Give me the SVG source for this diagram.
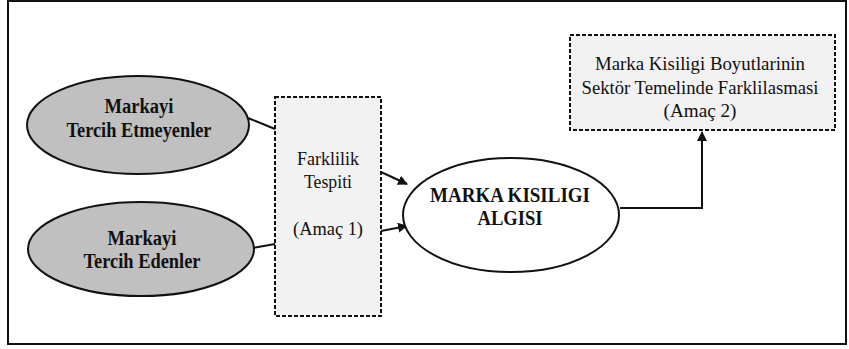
<svg xmlns="http://www.w3.org/2000/svg" width="849" height="349" viewBox="0 0 849 349">
<style>
.t{font-family:"Liberation Serif","Times New Roman",serif;font-size:19px;fill:#111;text-anchor:middle}
.b{font-weight:bold;font-size:20px}
.ell{fill:#c0c0c0;stroke:#111;stroke-width:2}
.dash{fill:#f2f2f2;stroke:#111;stroke-width:2;stroke-dasharray:4 2}
.ln{fill:none;stroke:#111;stroke-width:2}
</style>
<defs>
<marker id="ah" viewBox="0 0 10 10" refX="9" refY="5" markerWidth="5" markerHeight="5" orient="auto" markerUnits="strokeWidth">
<path d="M0,0 L10,5 L0,10 z" fill="#111"/>
</marker>
</defs>
<rect x="8" y="1" width="838" height="343" fill="#fff" stroke="#111" stroke-width="2"/>
<g id="connectors">
<line class="ln" x1="248" y1="118" x2="275" y2="129"/>
<line class="ln" x1="253" y1="248" x2="275" y2="244"/>
<line class="ln" x1="381" y1="172" x2="407" y2="184" marker-end="url(#ah)"/>
<line class="ln" x1="381" y1="231" x2="407" y2="226" marker-end="url(#ah)"/>
<polyline class="ln" points="620,208 702,208 702,132" marker-end="url(#ah)"/>
</g>
<g id="n1">
<ellipse class="ell" cx="138" cy="125" rx="111" ry="49"/>
<text class="t b" x="139" y="113" textLength="69" lengthAdjust="spacingAndGlyphs">Markayi</text>
<text class="t b" x="139" y="137" textLength="145" lengthAdjust="spacingAndGlyphs">Tercih Etmeyenler</text>
</g>
<g id="n2">
<ellipse class="ell" cx="141" cy="249" rx="113" ry="47"/>
<text class="t b" x="142" y="245" textLength="69" lengthAdjust="spacingAndGlyphs">Markayi</text>
<text class="t b" x="142" y="268" textLength="117" lengthAdjust="spacingAndGlyphs">Tercih Edenler</text>
</g>
<g id="n3">
<rect class="dash" x="275" y="97" width="106" height="219"/>
<text class="t" x="328" y="165" textLength="62" lengthAdjust="spacingAndGlyphs">Farklilik</text>
<text class="t" x="328" y="188" textLength="48" lengthAdjust="spacingAndGlyphs">Tespiti</text>
<text class="t" x="328" y="235" textLength="70" lengthAdjust="spacingAndGlyphs">(Amaç 1)</text>
</g>
<g id="n4">
<ellipse cx="511" cy="215" rx="108" ry="57" fill="#fff" stroke="#111" stroke-width="2"/>
<text class="t b" x="510" y="202" textLength="160" lengthAdjust="spacingAndGlyphs">MARKA KISILIGI</text>
<text class="t b" x="510" y="225" textLength="65" lengthAdjust="spacingAndGlyphs">ALGISI</text>
</g>
<g id="n5">
<rect class="dash" x="570" y="35" width="265" height="95"/>
<text class="t" x="700" y="70" textLength="210" lengthAdjust="spacingAndGlyphs">Marka Kisiligi  Boyutlarinin</text>
<text class="t" x="700" y="94" textLength="237" lengthAdjust="spacingAndGlyphs">Sektör Temelinde Farklilasmasi</text>
<text class="t" x="700" y="117" textLength="73" lengthAdjust="spacingAndGlyphs">(Amaç 2)</text>
</g>
</svg>
